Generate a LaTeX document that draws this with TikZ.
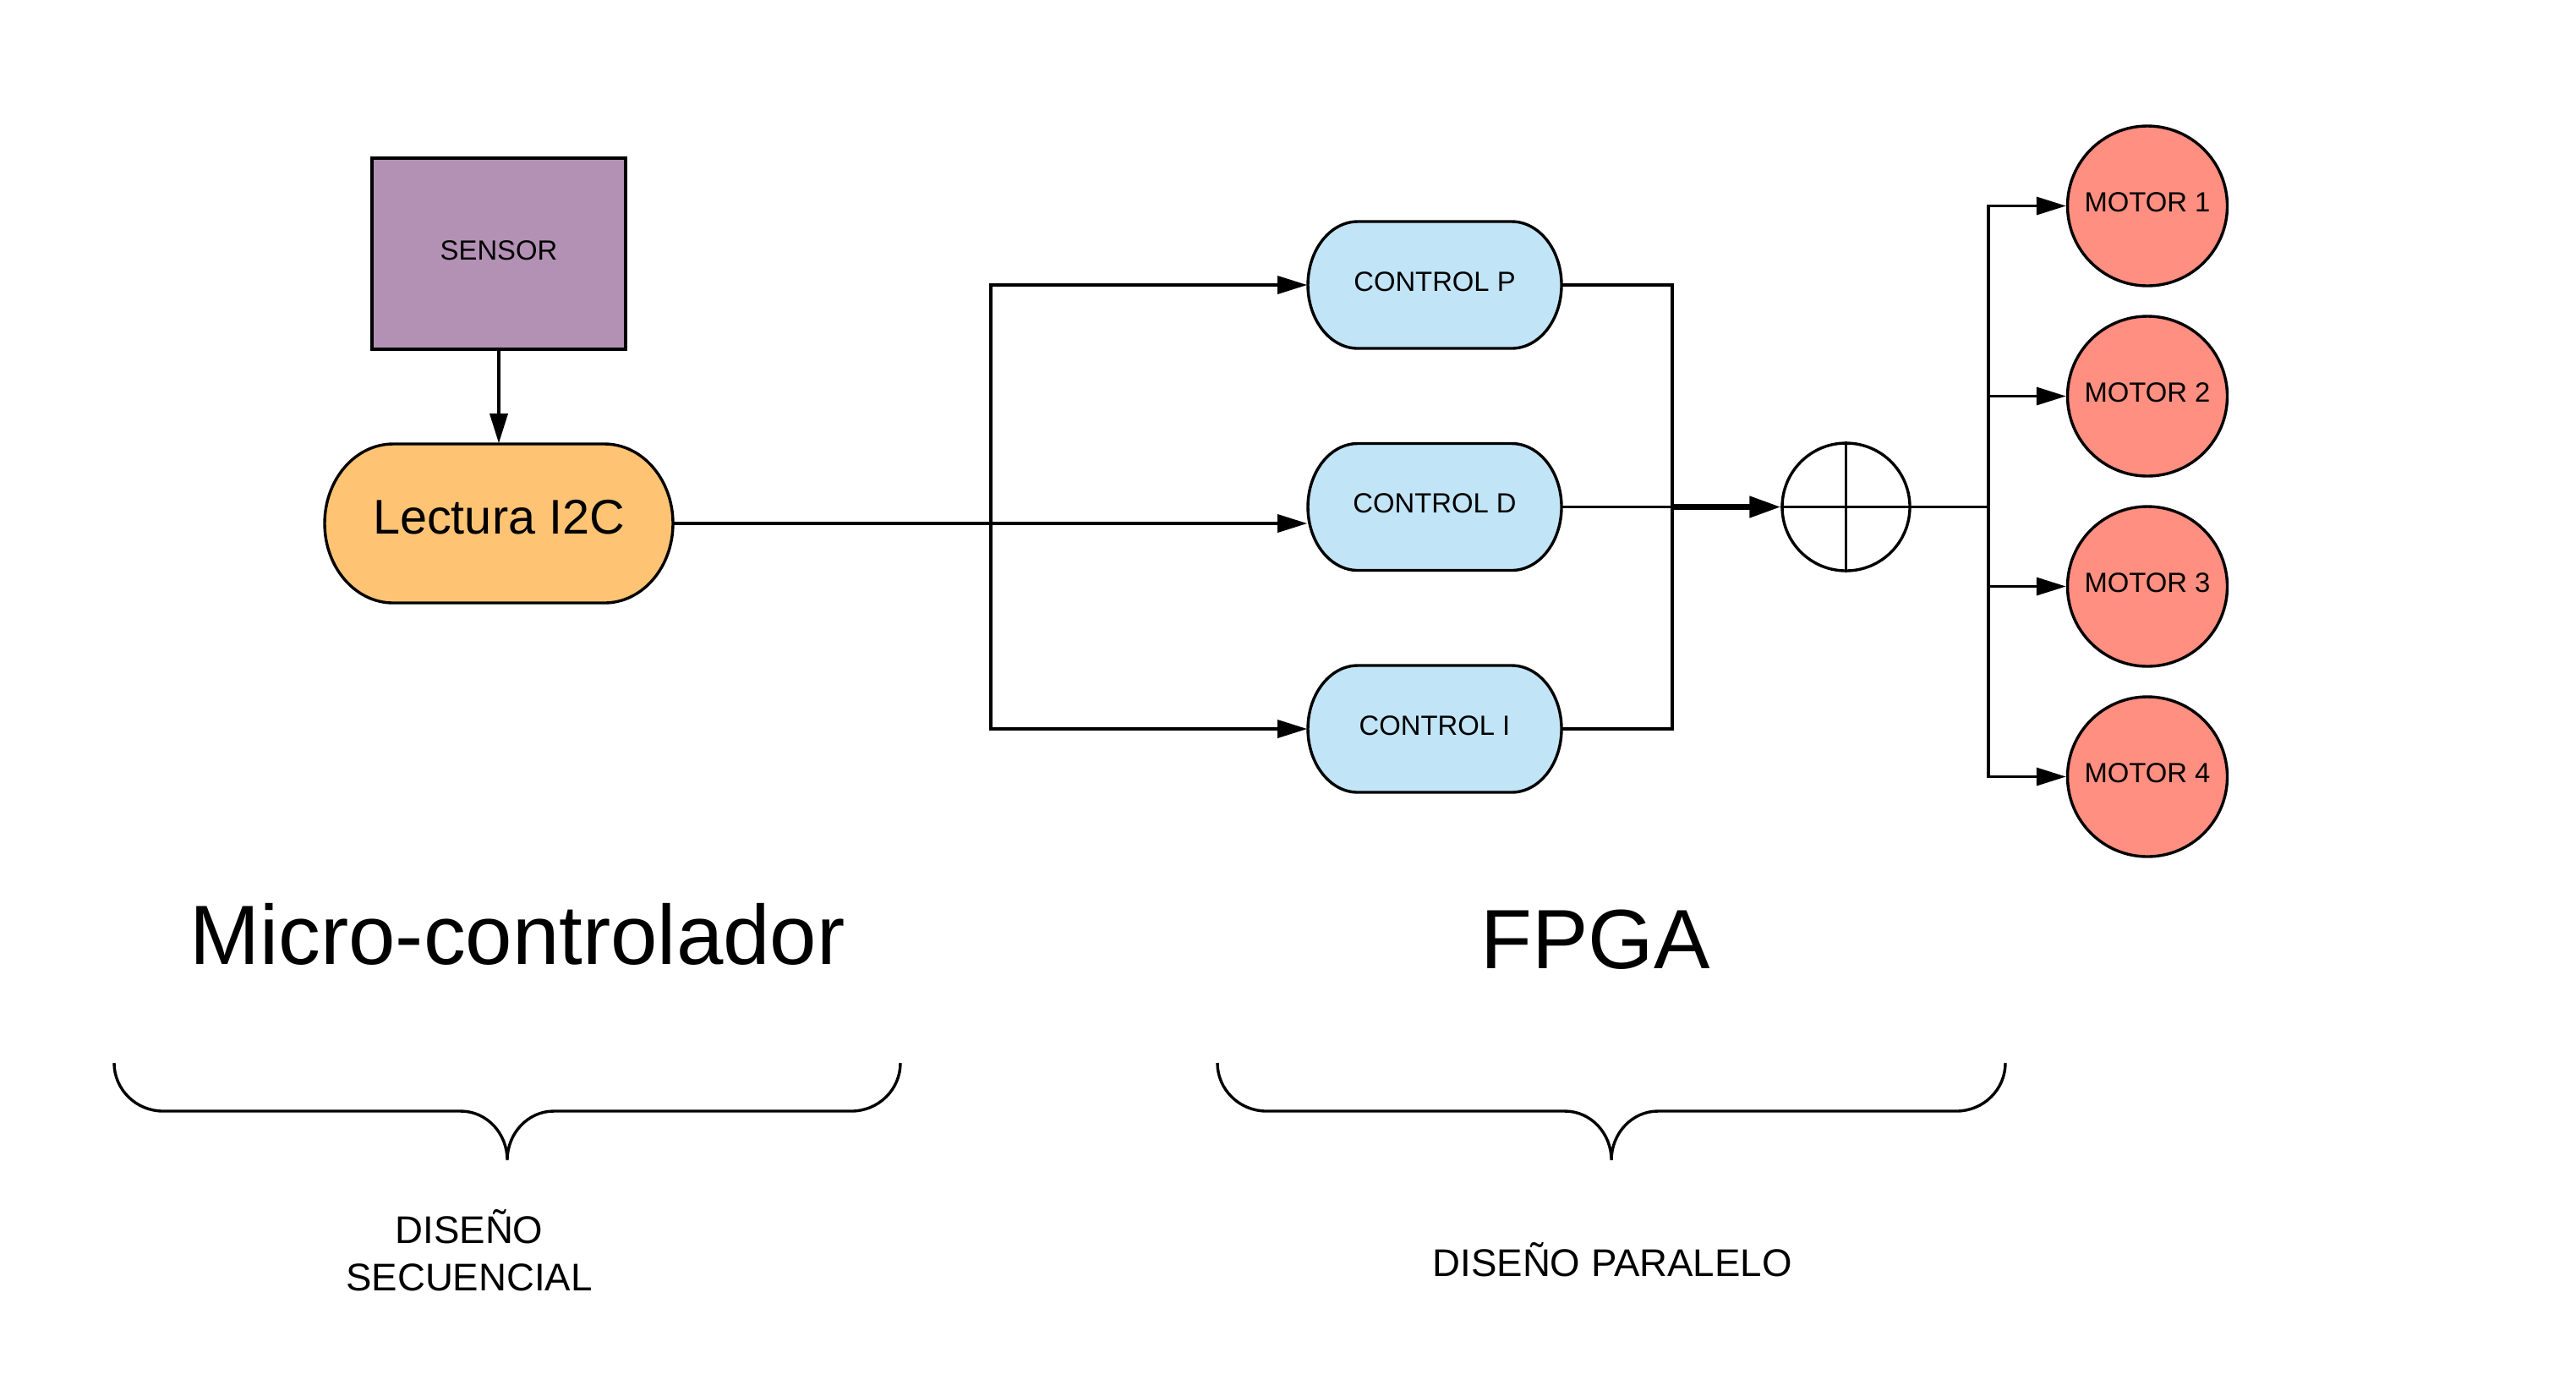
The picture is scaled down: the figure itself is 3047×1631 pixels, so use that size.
\documentclass[tikz,border=0pt]{standalone}
\usepackage{fontspec}
\setmainfont{Liberation Sans}
\usetikzlibrary{arrows.meta}
\definecolor{sensorfill}{HTML}{B391B5}
\definecolor{lectfill}{HTML}{FFC374}
\definecolor{ctrlfill}{HTML}{C1E4F6}
\definecolor{motorfill}{HTML}{FF8F80}
% pill outline: cx, cy, half width, half height, end radius (px)
\newcommand\pillshape[5]{%
 \filldraw[pillline]
 ({#1-#3+#5},{#2-#4}) -- ({#1+#3-#5},{#2-#4})
 .. controls ({#1+#3-#5+0.5523*#5},{#2-#4}) and ({#1+#3},{#2-0.5523*#4}) .. ({#1+#3},{#2})
 .. controls ({#1+#3},{#2+0.5523*#4}) and ({#1+#3-#5+0.5523*#5},{#2+#4}) .. ({#1+#3-#5},{#2+#4})
 -- ({#1-#3+#5},{#2+#4})
 .. controls ({#1-#3+#5-0.5523*#5},{#2+#4}) and ({#1-#3},{#2+0.5523*#4}) .. ({#1-#3},{#2})
 .. controls ({#1-#3},{#2-0.5523*#4}) and ({#1-#3+#5-0.5523*#5},{#2-#4}) .. cycle;}
% brace: left, centre, right (px)
\newcommand\bracepath[3]{%
 \draw[braceline]
 (#1,1257) .. controls (#1,{1257+0.5523*57}) and ({#1+58-0.5523*58},1314) .. ({#1+58},1314)
 -- ({#2-55},1314) .. controls ({#2-55+0.5523*55},1314) and (#2,{1372-0.5523*58}) .. (#2,1372)
 .. controls (#2,{1372-0.5523*58}) and ({#2+55-0.5523*55},1314) .. ({#2+55},1314)
 -- ({#3-58},1314) .. controls ({#3-58+0.5523*58},1314) and (#3,{1257+0.5523*57}) .. (#3,1257);}
\begin{document}
\begin{tikzpicture}[x=0.25pt, y=-0.25pt,
  lw/.style={line width=0.85pt},
  pillline/.style={lw, draw=black},
  braceline/.style={lw, draw=black},
  conn/.style={lw, draw=black},
  arr/.style={conn, -{Triangle[length=8.75pt,width=5.25pt]}},
  thickarr/.style={line width=1.6pt, draw=black, -{Triangle[length=9.25pt,width=6.1pt]}},
  smalltxt/.style={font=\fontsize{8.2pt}{9.8pt}\selectfont, text height=5.9pt, text depth=2.3pt, inner sep=0pt},
  sensorbox/.style={smalltxt, rectangle, draw=black, lw, fill=sensorfill, minimum width=75pt, minimum height=56.5pt},
  ctrlnode/.style={smalltxt, rectangle, minimum width=75pt, minimum height=37.5pt},
  lectnode/.style={font=\fontsize{14.4pt}{17pt}\selectfont, text height=10.4pt, text depth=4pt, inner sep=0pt, rectangle, minimum width=103pt, minimum height=47pt},
  motornode/.style={smalltxt, circle, draw=black, lw, fill=motorfill, minimum size=47.25pt},
  sumnode/.style={circle, draw=black, lw, fill=white, minimum size=37.75pt, inner sep=0pt},
  bigtxt/.style={font=\fontsize{24.9pt}{29pt}\selectfont, inner sep=0pt, anchor=base},
  captxt/.style={font=\fontsize{11.4pt}{14pt}\selectfont, inner sep=0pt, align=center, anchor=base}
]
\fill[white] (0,0) rectangle (3047,1631);
\useasboundingbox (0,0) rectangle (3047,1631);

% sensor and I2C reading
\node[sensorbox] (sensor) at (590,300) {SENSOR};
\begin{scope}[pillline/.append style={fill=lectfill}]
\pillshape{590}{619}{206}{94}{81}
\end{scope}
\node[lectnode] (lect) at (590,619) {Lectura I2C};

% controllers
\begin{scope}[pillline/.append style={fill=ctrlfill}]
\pillshape{1697}{337}{150}{75}{59}
\pillshape{1697}{599.5}{150}{75}{59}
\pillshape{1697}{862}{150}{75}{59}
\end{scope}
\node[ctrlnode] (ctrlP) at (1697,337) {CONTROL P};
\node[ctrlnode] (ctrlD) at (1697,599.5) {CONTROL D};
\node[ctrlnode] (ctrlI) at (1697,862) {CONTROL I};

% summing junction
\node[sumnode] (sum) at (2183.5,599.5) {};

% motors
\node[motornode] (m1) at (2540,243.5) {MOTOR 1};
\node[motornode] (m2) at (2540,468.5) {MOTOR 2};
\node[motornode] (m3) at (2540,693.5) {MOTOR 3};
\node[motornode] (m4) at (2540,918.5) {MOTOR 4};

% connectors
\coordinate (split) at (1172,619);
\coordinate (merge) at (1978,599.5);
\coordinate (bus) at (2352,599.5);
\draw[arr] (sensor.south) -- (lect.north);
\draw[arr] (lect.east) -- (lect.east -| ctrlD.west);
\draw[arr] (split) |- (ctrlP.west);
\draw[arr] (split) |- (ctrlI.west);
\draw[conn] (ctrlP.east) -| (merge);
\draw[conn] (ctrlI.east) -| (merge);
\draw[conn] (ctrlD.east) -- (merge);
\draw[thickarr] (merge) -- (sum.west);
\draw[conn] (sum.north) -- (sum.south);
\draw[conn] (sum.west) -- (sum.east);
\draw[conn] (sum.east) -- (bus);
\draw[arr] (bus) |- (m1.west);
\draw[arr] (bus) |- (m2.west);
\draw[arr] (bus) |- (m3.west);
\draw[arr] (bus) |- (m4.west);

% titles and braces
\node[bigtxt] (tmicro) at (612,1140) {Micro-controlador};
\node[bigtxt] (tfpga) at (1887,1145) {FPGA};
\bracepath{135}{600}{1065}
\bracepath{1440}{1906}{2372}
\node[captxt] (tseq) at (555,1526) {DISEÑO\\SECUENCIAL};
\node[captxt] (tpar) at (1907,1509) {DISEÑO PARALELO};
\end{tikzpicture}
\end{document}
